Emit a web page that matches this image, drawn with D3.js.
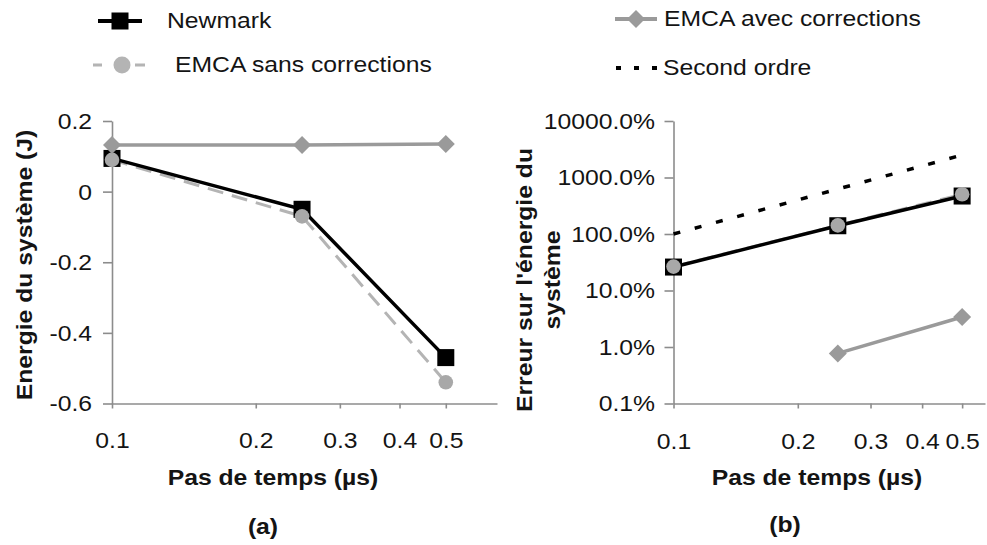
<!DOCTYPE html>
<html>
<head>
<meta charset="utf-8">
<script src="https://cdn.jsdelivr.net/npm/d3@7"></script>
<style>
  html, body { margin: 0; padding: 0; background: #ffffff; }
  svg { display: block; }
  text { font-family: "Liberation Sans", Arial, Helvetica, sans-serif; fill: #141414; }
</style>
</head>
<body>
<svg id="fig" width="987" height="545"></svg>
<script>
// Time steps (µs) and tick values
const timeSteps = [0.1, 0.25, 0.5];
const xTickValues = [0.1, 0.2, 0.3, 0.4, 0.5];

// (a) System energy (J)
const energyNewmark = [0.094, -0.05, -0.47];
const energySans = [0.09, -0.07, -0.54];
const energyAvec = [0.132, 0.132, 0.135];
const energyTicks = [-0.6, -0.4, -0.2, 0, 0.2];

// (b) Error on system energy (%)
const errorNewmark = [26, 140, 470];
const errorSans = [26.5, 142, 505];
const errorAvec = [null, 0.77, 3.4];
const errorSecondOrder = [100, 625, 2500];
const errorTicks = [0.1, 1, 10, 100, 1000, 10000];

const seriesNames = ["Newmark", "EMCA sans corrections", "EMCA avec corrections", "Second ordre"];

// ---- styling ----
const SX = 1.15;            // horizontal glyph stretch
const FS = 21.5;            // base font size
const axisColor = "#8c8c8c";
const cNewmark = "#000000";
const cSans = "#b4b4b4";
const cSansMarker = "#a8a8a8";
const cAvec = "#9a9a9a";

const svg = d3.select("#fig");

function label(x, y, str, opt = {}) {
  const rot = opt.rotate ? ` rotate(${opt.rotate})` : "";
  return svg.append("text")
    .attr("transform", `translate(${x},${y})${rot} scale(${SX},1)`)
    .attr("text-anchor", opt.anchor || "middle")
    .attr("dominant-baseline", "central")
    .style("font-size", (opt.size || FS) + "px")
    .style("font-weight", opt.bold ? "bold" : "normal")
    .text(str);
}

function styleAxis(g) {
  g.select(".domain").attr("stroke", axisColor).attr("stroke-width", 1.6);
  g.selectAll(".tick line").attr("stroke", axisColor).attr("stroke-width", 1.6);
  g.selectAll(".tick text")
    .style("font-size", FS + "px")
    .attr("fill", "#141414");
}

function yAxis(scale, x0, fmt, offset) {
  const g = svg.append("g")
    .attr("transform", `translate(${x0},0)`)
    .call(d3.axisLeft(scale).tickValues(scale === null ? [] : scale.__ticks).tickFormat(fmt).tickSize(9).tickSizeOuter(0));
  styleAxis(g);
  g.selectAll(".tick text")
    .attr("x", null).attr("dy", null)
    .attr("dominant-baseline", "central")
    .attr("text-anchor", "end")
    .attr("transform", `translate(${-offset},0) scale(${SX},1)`);
  return g;
}

function xAxis(scale, y0, offset) {
  const g = svg.append("g")
    .attr("transform", `translate(0,${y0})`)
    .call(d3.axisBottom(scale).tickValues(xTickValues).tickFormat(d => String(d)).tickSize(5).tickSizeOuter(0));
  styleAxis(g);
  g.selectAll(".tick text")
    .attr("y", null).attr("dy", null)
    .attr("dominant-baseline", "central")
    .attr("text-anchor", "middle")
    .attr("transform", `translate(0,${offset}) scale(${SX},1)`);
  return g;
}

function diamondPath(r) {
  return `M0,${-r}L${r},0L0,${r}L${-r},0Z`;
}

function drawSeries(xs, ys, values, o) {
  const pts = values.map((v, i) => ({ x: timeSteps[i], v })).filter(d => d.v != null);
  if (o.line) {
    svg.append("path")
      .attr("d", d3.line().x(d => xs(d.x)).y(d => ys(d.v))(pts))
      .attr("fill", "none")
      .attr("stroke", o.color)
      .attr("stroke-width", o.width)
      .attr("stroke-dasharray", o.dash || null);
  }
  return pts;
}

function drawMarkers(xs, ys, pts, type, color) {
  pts.forEach(d => {
    const cx = xs(d.x), cy = ys(d.v);
    if (type === "square") {
      svg.append("rect").attr("x", cx - 8.5).attr("y", cy - 8.5)
        .attr("width", 17).attr("height", 17).attr("fill", color);
    } else if (type === "circle") {
      svg.append("circle").attr("cx", cx).attr("cy", cy).attr("r", 7.3).attr("fill", color);
    } else if (type === "diamond") {
      svg.append("path").attr("transform", `translate(${cx},${cy})`)
        .attr("d", diamondPath(9)).attr("fill", color);
    }
  });
}

// ---------- Panel (a): energy ----------
const xA = d3.scaleLog().domain([0.1, 0.64]).range([112, 497]);
const yA = d3.scaleLinear().domain([-0.6, 0.2]).range([403.5, 121]);
yA.__ticks = energyTicks;

xAxis(xA, 403.5, 37);
yAxis(yA, xA(0.1), d => (d === 0 ? "0" : String(d)), 20);

let p;
p = drawSeries(xA, yA, energySans, { line: true, color: cSans, width: 3, dash: "16,9" });
const pSansA = p;
p = drawSeries(xA, yA, energyNewmark, { line: true, color: cNewmark, width: 3.5 });
drawMarkers(xA, yA, p, "square", cNewmark);
drawMarkers(xA, yA, pSansA, "circle", cSansMarker);
p = drawSeries(xA, yA, energyAvec, { line: true, color: cAvec, width: 3.5 });
drawMarkers(xA, yA, p, "diamond", cAvec);

label(25, 265, "Energie du système (J)", { bold: true, rotate: -90 });
label(273, 478, "Pas de temps (µs)", { bold: true });
label(263, 527, "(a)", { bold: true });

// ---------- Panel (b): relative error ----------
const xB = d3.scaleLog().domain([0.1, 0.568]).range([673.5, 985]);
const yB = d3.scaleLog().domain([0.1, 10000]).range([403.5, 121]);
yB.__ticks = errorTicks;

xAxis(xB, 403.5, 38);
yAxis(yB, xB(0.1), d => d.toFixed(1) + "%", 18.5);

const pSansB = drawSeries(xB, yB, errorSans, { line: true, color: cSans, width: 3, dash: "16,9" });
p = drawSeries(xB, yB, errorNewmark, { line: true, color: cNewmark, width: 3.5 });
drawMarkers(xB, yB, p, "square", cNewmark);
drawMarkers(xB, yB, pSansB, "circle", cSansMarker);
p = drawSeries(xB, yB, errorAvec, { line: true, color: cAvec, width: 3.5 });
drawMarkers(xB, yB, p, "diamond", cAvec);
drawSeries(xB, yB, errorSecondOrder, { line: true, color: cNewmark, width: 3.5, dash: "7,15" });

label(525, 280, "Erreur sur l'énergie du", { bold: true, rotate: -90 });
label(553, 280, "système", { bold: true, rotate: -90 });
label(817, 478, "Pas de temps (µs)", { bold: true });
label(785, 525, "(b)", { bold: true });

// ---------- Legend ----------
// Newmark
svg.append("line").attr("x1", 98).attr("x2", 142).attr("y1", 21).attr("y2", 21)
  .attr("stroke", cNewmark).attr("stroke-width", 4);
svg.append("rect").attr("x", 111.5).attr("y", 12.5).attr("width", 17).attr("height", 17).attr("fill", cNewmark);
label(167, 21, seriesNames[0], { anchor: "start" });

// EMCA sans corrections
svg.append("line").attr("x1", 93).attr("x2", 145).attr("y1", 65).attr("y2", 65)
  .attr("stroke", cSans).attr("stroke-width", 3).attr("stroke-dasharray", "9,33,10");
svg.append("circle").attr("cx", 122).attr("cy", 65).attr("r", 8.5).attr("fill", cSans);
label(175, 65, seriesNames[1], { anchor: "start" });

// EMCA avec corrections
svg.append("line").attr("x1", 615).attr("x2", 657).attr("y1", 19).attr("y2", 19)
  .attr("stroke", cAvec).attr("stroke-width", 4);
svg.append("path").attr("transform", "translate(636,19)").attr("d", diamondPath(9)).attr("fill", cAvec);
label(664, 19, seriesNames[2], { anchor: "start" });

// Second ordre
svg.append("line").attr("x1", 616).attr("x2", 658).attr("y1", 68).attr("y2", 68)
  .attr("stroke", cNewmark).attr("stroke-width", 4).attr("stroke-dasharray", "5,13");
label(663, 68, seriesNames[3], { anchor: "start" });
</script>
</body>
</html>
